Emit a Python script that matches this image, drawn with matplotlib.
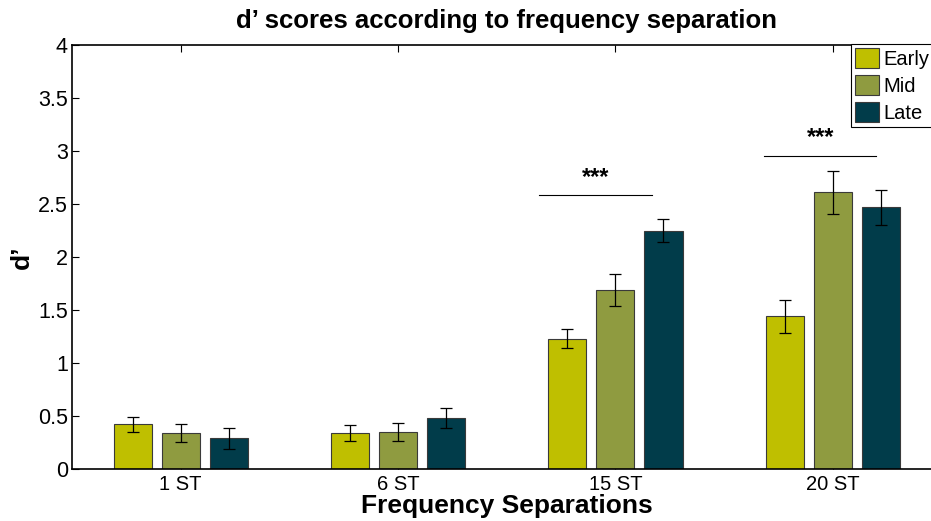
import matplotlib
matplotlib.use('Agg')
import matplotlib.pyplot as plt
import numpy as np
from matplotlib.ticker import FormatStrFormatter

plt.rcParams['font.family'] = ['Liberation Sans', 'DejaVu Sans']

groups = ['1 ST', '6 ST', '15 ST', '20 ST']
series = ['Early', 'Mid', 'Late']
colors = ['#bfbf00', '#8f9b40', '#013c4a']

early = [0.42, 0.34, 1.23, 1.44]
mid = [0.34, 0.35, 1.69, 2.61]
late = [0.29, 0.48, 2.25, 2.47]
early_err = [0.075, 0.075, 0.09, 0.155]
mid_err = [0.083, 0.088, 0.15, 0.205]
late_err = [0.10, 0.095, 0.11, 0.165]

# significance markers: (x start, x end, y, label)
sig_lines = [(2.65, 3.17, 2.585, '***'), (3.685, 4.20, 2.955, '***')]

values = [early, mid, late]
errors = [early_err, mid_err, late_err]

fig = plt.figure(figsize=(9.31, 5.21), dpi=100)
ax = fig.add_axes([0.0773, 0.0998, 0.934, 0.8138])

x = np.arange(1, len(groups) + 1)
offsets = [-0.221, 0, 0.221]
for vals, errs, off, col, name in zip(values, errors, offsets, colors, series):
    ax.bar(x + off, vals, width=0.175, color=col, edgecolor='#3a3a3a',
           linewidth=0.8, label=name, zorder=2)
    ax.errorbar(x + off, vals, yerr=errs, fmt='none', ecolor='black',
                elinewidth=0.9, capsize=4.5, capthick=0.9, zorder=3)

for x0, x1, y, txt in sig_lines:
    ax.plot([x0, x1], [y, y], color='black', linewidth=0.8)
    ax.text((x0 + x1) / 2, y + 0.06, txt, ha='center', va='bottom',
            fontsize=17, fontweight='bold')

ax.set_xlim(0.5, 4.5)
ax.set_ylim(0, 4)
ax.set_xticks(x)
ax.set_xticklabels(groups, fontsize=14.5)
ax.set_yticks(np.arange(0, 4.01, 0.5))
ax.yaxis.set_major_formatter(FormatStrFormatter('%g'))
ax.tick_params(axis='y', labelsize=15.5, pad=3)
ax.tick_params(axis='x', pad=4)
ax.tick_params(direction='in', top=True, right=True, length=5, width=0.8)
for s in ax.spines.values():
    s.set_linewidth(1.2)

ax.set_title("d’ scores according to frequency separation", fontsize=18.5,
             fontweight='bold', pad=12)
ax.set_xlabel('Frequency Separations', fontsize=19, fontweight='bold', labelpad=0)
ax.set_ylabel('d’', fontsize=19, fontweight='bold', labelpad=3)

leg = ax.legend(loc='upper left', bbox_to_anchor=(851 / 931, 1 - 44 / 521),
                bbox_transform=fig.transFigure, borderaxespad=0, fontsize=14.5,
                fancybox=False, framealpha=1, edgecolor='black',
                handlelength=1.2, handleheight=1.15, labelspacing=0.3,
                borderpad=0.2, handletextpad=0.2)
leg.get_frame().set_linewidth(0.8)

fig.savefig('out.png', dpi=100)
